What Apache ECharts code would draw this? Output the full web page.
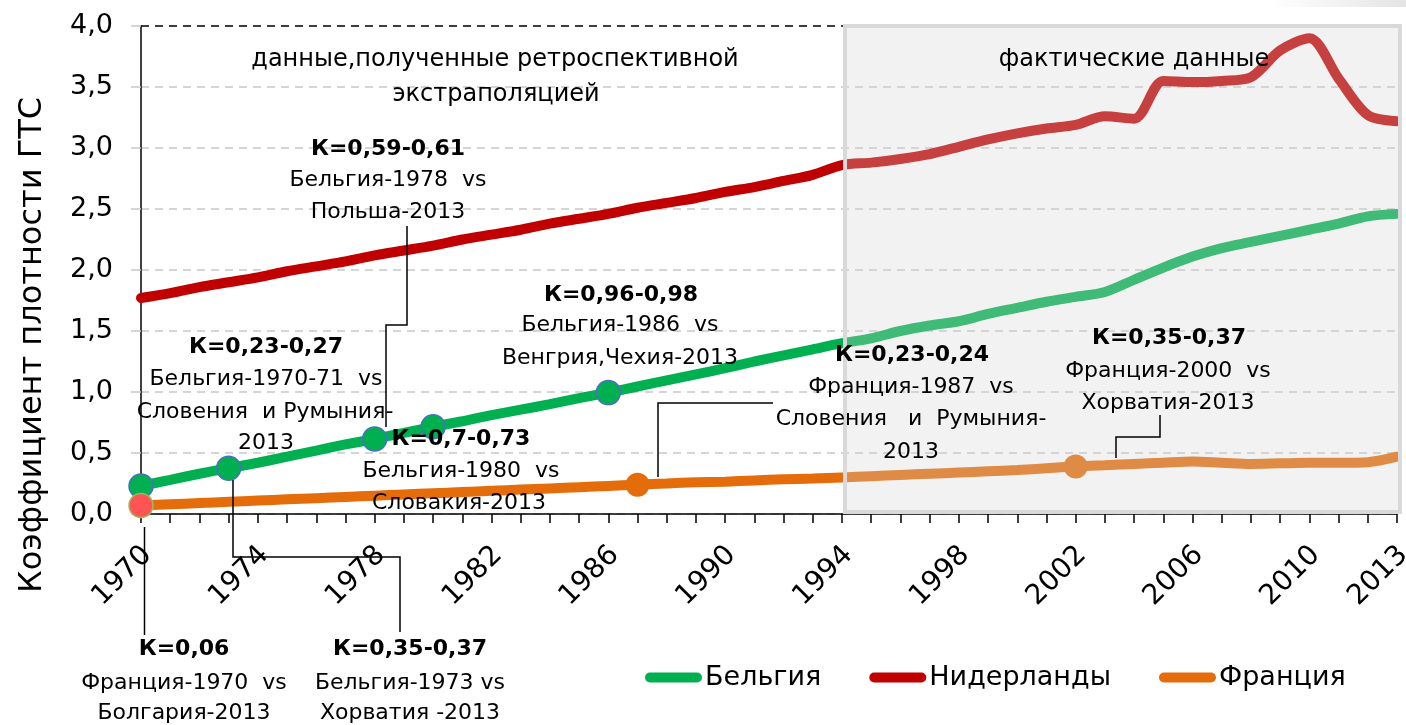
<!DOCTYPE html>
<html>
<head>
<meta charset="utf-8">
<script src="https://cdn.jsdelivr.net/npm/echarts@6/dist/echarts.min.js"></script>
<style>
  html, body { margin: 0; padding: 0; background: #fff; }
  #chart { width: 1406px; height: 725px; }
</style>
</head>
<body>
<div id="chart"></div>
<script>
const years = ['1970', '1971', '1972', '1973', '1974', '1975', '1976', '1977', '1978', '1979',
  '1980', '1981', '1982', '1983', '1984', '1985', '1986', '1987', '1988', '1989',
  '1990', '1991', '1992', '1993', '1994', '1995', '1996', '1997', '1998', '1999',
  '2000', '2001', '2002', '2003', '2004', '2005', '2006', '2007', '2008', '2009',
  '2010', '2011', '2012', '2013']
const tickYears = ['1970', '1974', '1978', '1982', '1986', '1990', '1994', '1998', '2002', '2006', '2010', '2013']

const belgium = [0.23, 0.28, 0.33, 0.375, 0.42, 0.47, 0.52, 0.57, 0.615, 0.665,
  0.715, 0.76, 0.81, 0.855, 0.90, 0.95, 0.995, 1.045, 1.095, 1.145,
  1.195, 1.25, 1.30, 1.35, 1.40, 1.44, 1.50, 1.545, 1.58, 1.64,
  1.69, 1.74, 1.78, 1.82, 1.92, 2.02, 2.11, 2.18, 2.23, 2.28,
  2.33, 2.38, 2.44, 2.46]
const netherlands = [1.77, 1.81, 1.86, 1.90, 1.94, 1.99, 2.03, 2.07, 2.12, 2.16,
  2.20, 2.25, 2.29, 2.33, 2.38, 2.42, 2.46, 2.51, 2.55, 2.59,
  2.64, 2.68, 2.73, 2.78, 2.86, 2.88, 2.91, 2.95, 3.01, 3.07,
  3.12, 3.16, 3.19, 3.26, 3.24, 3.55, 3.54, 3.55, 3.58, 3.80,
  3.90, 3.57, 3.27, 3.22]
const france = [0.07, 0.08, 0.09, 0.10, 0.11, 0.12, 0.13, 0.14, 0.15, 0.16,
  0.17, 0.18, 0.19, 0.20, 0.21, 0.22, 0.23, 0.24, 0.25, 0.26,
  0.265, 0.275, 0.285, 0.29, 0.30, 0.31, 0.32, 0.33, 0.34, 0.35,
  0.36, 0.375, 0.39, 0.40, 0.41, 0.42, 0.43, 0.42, 0.41, 0.415,
  0.42, 0.42, 0.425, 0.47]

// points that are highlighted with a marker
const belgiumMarkerYears = ['1970', '1973', '1978', '1980', '1986']
const franceMarkerYears = ['1987', '2002']
const franceStartYears = ['1970']
// period with actual data (shaded box)
const factYears = ['1994', '2013']

// annotation texts: [centerX, centerY, text, bold, size]
const notes = [
  [495, 60, 'данные,полученные ретроспективной', false, 24],
  [496, 95, 'экстраполяцией', false, 24],
  [1134, 60, 'фактические данные', false, 24],
  [388, 149, 'К=0,59-0,61', true], [388, 180, 'Бельгия-1978  vs', false], [388, 212, 'Польша-2013', false],
  [266, 347, 'К=0,23-0,27', true], [266, 379, 'Бельгия-1970-71  vs', false], [265, 412, 'Словения  и Румыния-', false], [266, 443, '2013', false],
  [461, 439, 'К=0,7-0,73', true], [461, 471, 'Бельгия-1980  vs', false], [459, 503, 'Словакия-2013', false],
  [621, 295, 'К=0,96-0,98', true], [620, 325, 'Бельгия-1986  vs', false], [620, 358, 'Венгрия,Чехия-2013', false],
  [912, 355, 'К=0,23-0,24', true], [911, 387, 'Франция-1987  vs', false], [911, 419, 'Словения   и  Румыния-', false], [911, 452, '2013', false],
  [1169, 338, 'К=0,35-0,37', true], [1168, 371, 'Франция-2000  vs', false], [1168, 403, 'Хорватия-2013', false],
  [184, 649, 'К=0,06', true], [184, 683, 'Франция-1970  vs', false], [184, 713, 'Болгария-2013', false],
  [410, 649, 'К=0,35-0,37', true], [410, 683, 'Бельгия-1973 vs', false], [410, 713, 'Хорватия -2013', false]
]
// leader lines of the annotations
const leaders = [
  [[407, 226], [407, 325], [386, 325], [386, 427]],
  [[233, 480], [233, 557], [400, 557], [400, 632]],
  [[144.5, 527], [144.5, 635]],
  [[658, 477], [658, 403], [773, 403]],
  [[1116, 458], [1116, 437], [1160, 437], [1160, 415]]
]

const FONT = '"DejaVu Sans", Verdana, sans-serif'

function pick(series, list) {
  return list.map(y => [y, series[years.indexOf(y)]])
}

let graphics = notes.map(n => ({
  type: 'text',
  x: n[0],
  y: n[1],
  z: 100,
  silent: true,
  style: {
    text: n[2],
    fill: '#000',
    font: (n[3] ? 'bold ' : '') + (n[4] || 22) + 'px ' + FONT,
    align: 'center',
    verticalAlign: 'middle'
  }
}))
leaders.forEach(pts => {
  graphics.push({
    type: 'polyline',
    z: 100,
    silent: true,
    shape: { points: pts },
    style: { stroke: '#000', lineWidth: 1.5, fill: null }
  })
})
graphics.push({
  type: 'text',
  x: 33,
  y: 345,
  rotation: Math.PI / 2,
  z: 100,
  style: {
    text: 'Коэффициент плотности ГТС',
    fill: '#000',
    font: '32px ' + FONT,
    align: 'center',
    verticalAlign: 'middle'
  }
})
graphics.push({
  type: 'rect',
  z: 100,
  shape: { x: 1270, y: 0, width: 136, height: 7 },
  style: {
    fill: new echarts.graphic.LinearGradient(0, 0, 1, 0, [
      { offset: 0, color: 'rgba(230,230,230,0)' },
      { offset: 1, color: 'rgba(228,228,228,1)' }
    ])
  }
})

const gridColors = ['#c8c8c8', '#c8c8c8', '#c8c8c8', '#c8c8c8', '#c8c8c8', '#c8c8c8', '#c8c8c8', '#c8c8c8', '#000']

const option = {
  animation: false,
  backgroundColor: '#fff',
  grid: { left: 141, right: 9, top: 26, bottom: 211, containLabel: false, outerBoundsMode: 'none' },
  legend: {
    data: ['Бельгия', 'Нидерланды', 'Франция'],
    left: 645,
    top: 664,
    padding: 0,
    itemWidth: 57,
    itemHeight: 10,
    itemGap: 48,
    icon: 'path://M5,0L53,0A5,5,0,0,1,53,10L5,10A5,5,0,0,1,5,0Z',
    textStyle: { fontSize: 27, fontFamily: FONT, color: '#000', padding: [0, 0, 0, -2] }
  },
  xAxis: {
    type: 'category',
    data: years,
    boundaryGap: false,
    axisLine: { lineStyle: { color: '#000', width: 1.5 } },
    axisTick: { show: true, interval: 0, length: 9, lineStyle: { color: '#000', width: 1.5 } },
    axisLabel: {
      interval: (i, v) => tickYears.includes(v),
      rotate: 45,
      margin: 43,
      padding: [0, -9, 0, 0],
      fontSize: 28,
      fontFamily: FONT,
      color: '#000'
    },
    splitLine: { show: false }
  },
  yAxis: {
    type: 'value',
    min: 0,
    max: 4,
    interval: 0.5,
    axisLine: { show: true, lineStyle: { color: '#000', width: 1.5 } },
    axisTick: { show: true, length: 10, lineStyle: { color: '#c8c8c8', width: 1.5 } },
    axisLabel: {
      formatter: v => v.toFixed(1).replace('.', ','),
      fontSize: 27,
      fontFamily: FONT,
      color: '#000',
      margin: 28
    },
    splitLine: { show: true, lineStyle: { color: gridColors, type: [8, 6], width: 1.5 } }
  },
  series: [
    {
      name: 'Бельгия',
      type: 'line',
      data: belgium,
      smooth: 0.3,
      symbol: 'none',
      color: '#00b050',
      lineStyle: { width: 10, color: '#00b050', cap: 'round' },
      z: 2
    },
    {
      name: 'Нидерланды',
      type: 'line',
      data: netherlands,
      smooth: 0.3,
      symbol: 'none',
      color: '#c00000',
      lineStyle: { width: 10, color: '#c00000', cap: 'round' },
      z: 2
    },
    {
      name: 'Франция',
      type: 'line',
      data: france,
      smooth: 0.3,
      symbol: 'none',
      color: '#e46c0a',
      lineStyle: { width: 10, color: '#e46c0a', cap: 'round' },
      z: 2
    },
    {
      name: 'belgiumPts',
      type: 'scatter',
      data: pick(belgium, belgiumMarkerYears),
      symbolSize: 24,
      itemStyle: { color: '#00b050', borderColor: '#4472c4', borderWidth: 1.5, opacity: 1 },
      z: 3
    },
    {
      name: 'francePts',
      type: 'scatter',
      data: pick(france, franceMarkerYears),
      symbolSize: 24,
      itemStyle: { color: '#e46c0a', opacity: 1 },
      z: 3
    },
    {
      name: 'franceStart',
      type: 'scatter',
      data: pick(france, franceStartYears),
      symbolSize: 24,
      itemStyle: { color: '#ff5454', borderColor: '#9bbb59', borderWidth: 1.5, opacity: 1 },
      z: 3
    },
    {
      name: 'factBox',
      type: 'custom',
      silent: true,
      z: 5,
      encode: { x: [0, 1], y: [2, 3] },
      data: [[years.indexOf(factYears[0]), years.indexOf(factYears[1]), 4, 0]],
      renderItem: (params, api) => {
        const a = api.coord([api.value(0), api.value(2)])
        const b = api.coord([api.value(1), api.value(3)])
        return {
          type: 'rect',
          shape: { x: a[0] + 3, y: a[1], width: b[0] - a[0], height: b[1] - a[1] - 2 },
          style: { fill: 'rgba(213,213,213,0.3)', stroke: '#d9d9d9', lineWidth: 4 }
        }
      }
    }
  ],
  graphic: graphics
}

const chart = echarts.init(document.getElementById('chart'))
chart.setOption(option)
window.addEventListener('resize', () => chart.resize())
</script>
</body>
</html>
